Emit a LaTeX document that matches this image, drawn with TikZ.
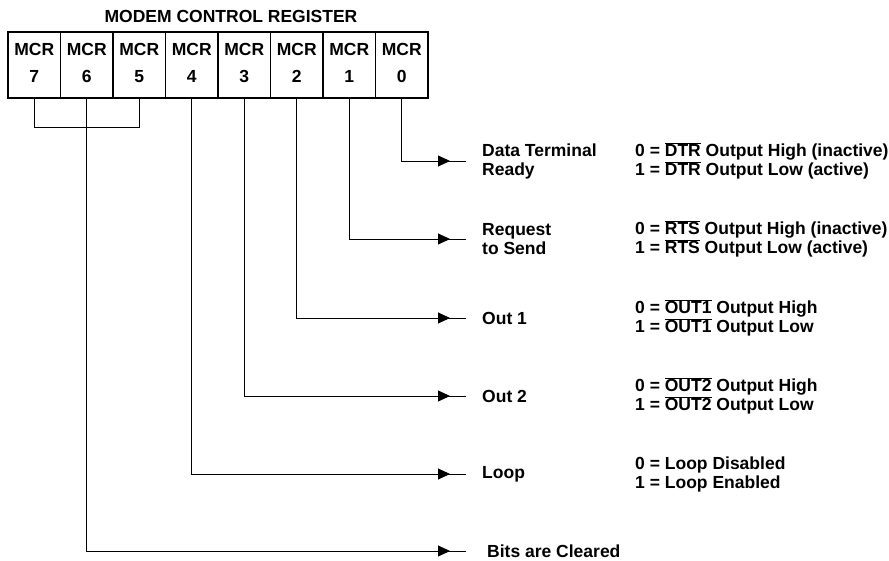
\documentclass[tikz,border=0pt]{standalone}
\usepackage{fontspec}
\setmainfont{Liberation Sans}
\usetikzlibrary{arrows.meta,positioning,decorations.markings}
\newcommand{\regfont}{\fontsize{17.5}{19}\selectfont\bfseries}
\newcommand{\ovl}[1]{$\overline{\mbox{#1}}$}
\tikzset{bitcell/.style={draw,line width=1.8pt,minimum width=52.5pt,minimum height=66pt,inner sep=0pt,align=center,font=\regfont},
lbl/.style={anchor=west,align=left,inner sep=0pt,font=\regfont},
wire/.style={draw,line width=0.9pt},
tipwire/.style={wire,postaction={decorate},decoration={markings,mark=at position -16pt with {\arrow{Triangle[length=12pt,width=11pt]}}}},
every picture/.style={x=1pt,y=-1pt,>=Latex}}
\begin{document}
\begin{tikzpicture}
\useasboundingbox (0,0) rectangle (889,561);
\node[font=\regfont] (title) at (231,16) {MODEM CONTROL REGISTER};
\foreach \k/\b in {0/7,1/6,2/5,3/4,4/3,5/2,6/1,7/0}{\node[bitcell] (b\b) at ({34.25+52.5*\k},65) {MCR\\[8pt]\b\rule[-4pt]{0pt}{4pt}};}
% MCR7..5 tied together
\coordinate (brk) at (0,127);
\draw[wire] (b7.south) |- (brk -| b5.south) -- (b5.south);
\foreach \b/\y in {0/161,1/239,2/318,3/396,4/474,6/551}{\coordinate (e\b) at (466,\y);\draw[tipwire] (b\b.south) |- (e\b);}
\node[lbl] (dtr) at (482,161) {Data Terminal\\Ready};
\node[lbl] (rts) at (482,239) {Request\\to Send};
\node[lbl] (out1) at (482,318) {Out 1};
\node[lbl] (out2) at (482,396) {Out 2};
\node[lbl] (loop) at (482,474) {Loop};
\node[lbl] (clr) at (487,551) {Bits are Cleared};
\node[lbl] (dtrv) at (635,161) {0 = \ovl{DTR} Output High (inactive)\\1 = \ovl{DTR} Output Low (active)};
\node[lbl] (rtsv) at (635,239) {0 = \ovl{RTS} Output High (inactive)\\1 = \ovl{RTS} Output Low (active)};
\node[lbl] (out1v) at (635,318) {0 = \ovl{OUT1} Output High\\1 = \ovl{OUT1} Output Low};
\node[lbl] (out2v) at (635,396) {0 = \ovl{OUT2} Output High\\1 = \ovl{OUT2} Output Low};
\node[lbl] (loopv) at (635,474) {0 = Loop Disabled\\1 = Loop Enabled};
\end{tikzpicture}
\end{document}
